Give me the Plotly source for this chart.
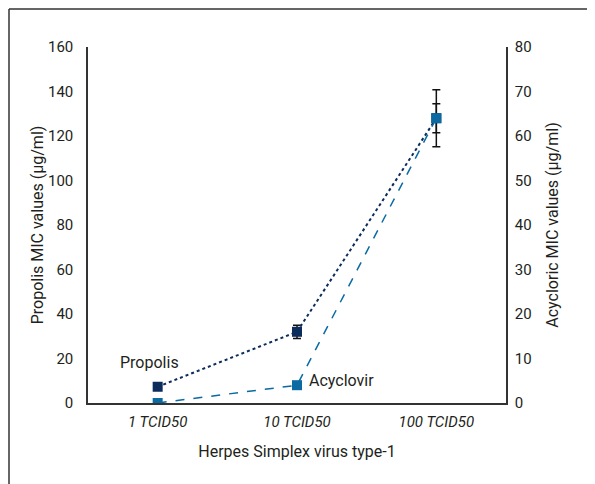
import plotly.graph_objects as go

# Data
categories = ["1 TCID50", "10 TCID50", "100 TCID50"]
propolis_mic = [7.3, 32, 128]          # left axis, µg/ml
propolis_err = [0, 3, 6.5]
acyclovir_mic = [0, 4, 64]             # right axis, µg/ml
acyclovir_err = [0, 0, 6.4]

FONT = "Roboto, Arial, sans-serif"
TEXT = "#231f20"
NAVY = "#0c2c5c"
BLUE = "#0a6aa1"

fig = go.Figure()

fig.add_trace(
    go.Scatter(
        x=categories,
        y=propolis_mic,
        name="Propolis",
        mode="lines+markers",
        line=dict(color=NAVY, width=2, dash="dot"),
        marker=dict(symbol="square", size=10, color=NAVY),
        error_y=dict(
            type="data", array=propolis_err, color="#111111",
            thickness=1.5, width=4,
        ),
    )
)
fig.add_trace(
    go.Scatter(
        x=categories,
        y=acyclovir_mic,
        name="Acyclovir",
        yaxis="y2",
        mode="lines+markers",
        line=dict(color=BLUE, width=1.5, dash="dash"),
        marker=dict(symbol="square", size=10, color=BLUE),
        error_y=dict(
            type="data", array=acyclovir_err, color="#111111",
            thickness=1.5, width=4,
        ),
    )
)

fig.add_annotation(
    x=categories[0], y=18, text="Propolis", showarrow=False,
    xshift=-8, font=dict(size=16, color=TEXT, family=FONT),
)
fig.add_annotation(
    x=categories[1], y=10, text="Acyclovir", showarrow=False,
    xanchor="left", xshift=10, font=dict(size=16, color=TEXT, family=FONT),
)

# frame lines (top and left) at the edge of the figure
PW, PH = 418, 356
fig.add_shape(
    type="line", xref="paper", yref="paper",
    x0=-79 / PW, x1=1.3, y0=1 + 38 / PH, y1=1 + 38 / PH,
    line=dict(color="#333333", width=1.5),
)
fig.add_shape(
    type="line", xref="paper", yref="paper",
    x0=-79 / PW, x1=-79 / PW, y0=1 + 38 / PH, y1=-0.3,
    line=dict(color="#333333", width=1.5),
)

fig.update_layout(
    width=587,
    height=476,
    margin=dict(l=80, r=89, t=39, b=81),
    paper_bgcolor="white",
    plot_bgcolor="white",
    showlegend=False,
    font=dict(family=FONT, color=TEXT, size=15),
    xaxis=dict(
        type="category",
        range=[-0.5, 2.5],
        showgrid=False,
        showline=True,
        linecolor="#333333",
        linewidth=1.5,
        ticks="",
        tickfont=dict(size=15, family=FONT, style="italic"),
        ticklabelstandoff=4,
        title=dict(text="Herpes Simplex virus type-1", standoff=16,
                   font=dict(size=16)),
    ),
    yaxis=dict(
        range=[0, 160],
        dtick=20,
        showgrid=False,
        zeroline=False,
        showline=True,
        linecolor="#333333",
        linewidth=1.5,
        ticks="",
        ticklabelstandoff=10,
        title=dict(text="Propolis MIC values (µg/ml)", standoff=0,
                   font=dict(size=16)),
    ),
    yaxis2=dict(
        range=[0, 80],
        dtick=10,
        overlaying="y",
        side="right",
        showgrid=False,
        zeroline=False,
        showline=True,
        linecolor="#333333",
        linewidth=1.5,
        ticks="",
        ticklabelstandoff=4,
        title=dict(text="Acycloric MIC values (µg/ml)", standoff=16,
                   font=dict(size=16)),
    ),
)

fig.write_html("out.html")
